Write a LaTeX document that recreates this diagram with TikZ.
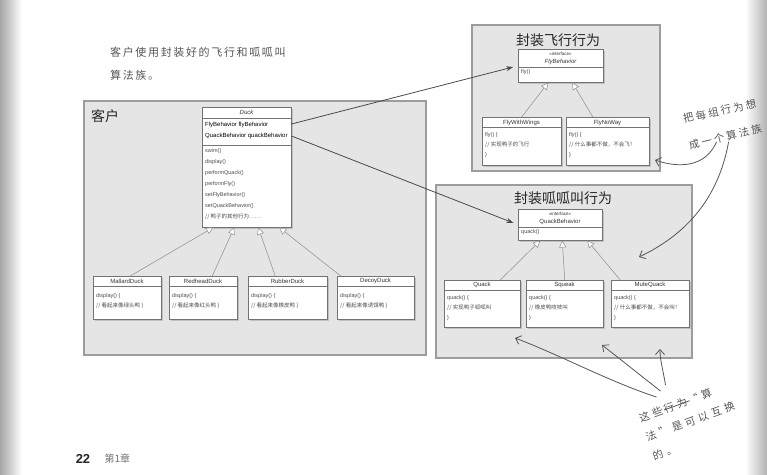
\documentclass[tikz,border=0pt]{standalone}
\usepackage{fontspec}
\setmainfont{Liberation Sans}
\newfontfamily\cjk{Noto Sans CJK SC}
\usetikzlibrary{arrows.meta,shadows}
\definecolor{DuckGroup}{HTML}{E5E5E5}
\definecolor{DuckFrame}{HTML}{9C9C9C}
\definecolor{DuckInk}{HTML}{4A4A4A}
\definecolor{DuckPencil}{HTML}{555555}

\tikzset{
  groupbox/.style={draw=DuckFrame, fill=DuckGroup, line width=1.2pt},
  umlbox/.style={draw=black!55, fill=white, line width=0.5pt, inner sep=0pt, anchor=north west,
    drop shadow={opacity=0.35, shadow xshift=1.5pt, shadow yshift=-1.5pt}},
  umlsep/.style={draw=black!55, line width=0.4pt},
  umlname/.style={font=\fontsize{6}{7}\selectfont, inner sep=0pt, text=black!80},
  umlbody/.style={font=\fontsize{5.5}{10}\selectfont, inner sep=0pt, anchor=north west, align=left, text=black!70},
  isa/.style={draw=black!45, line width=0.5pt, -{Triangle[open, length=7pt, width=7pt, fill=white]}},
  uses/.style={draw=DuckInk, line width=0.8pt, shorten >=5pt, -{Stealth[length=7pt, width=5pt]}},
  pencil/.style={draw=DuckPencil, line width=0.8pt, -{Straight Barb[length=5pt, width=9pt]}},
  hand/.style={font=\cjk\fontsize{10.5}{20}\selectfont\addfontfeature{LetterSpace=32}, text=DuckPencil, inner sep=0pt},
  grouptitle/.style={font=\cjk\fontsize{14}{16}\selectfont, text=black!85, inner sep=0pt},
}

\begin{document}
\begin{tikzpicture}[x=1pt, y=-1pt]
    \useasboundingbox (0,0) rectangle (767,474);
    \clip (0,0) rectangle (767,474);

    % page edges
    \shade[left color=black!35, right color=white] (0,0) rectangle (22,474);
    \shade[left color=white, right color=black!30] (745,0) rectangle (767,474);

    % ========== CLIENT ==========
    \node[hand, font=\cjk\fontsize{11}{23}\selectfont\addfontfeature{LetterSpace=15}, anchor=west, align=left] (note) at (110,63.5)
        {客户使用封装好的飞行和呱呱叫\\算法族。};

    \draw[groupbox] (84,101) rectangle (426,355);
    \node[grouptitle, anchor=west] (clientlabel) at (91,116) {客户};

    % Duck
    \node[umlbox, minimum width=89, minimum height=120] (duck) at (202,107) {};
    \node[umlname, font=\fontsize{6}{7}\selectfont\itshape] (duckname) at (246.5,112.5) {Duck};
    \draw[umlsep] (202,118) -- (291,118);
    \node[umlbody, font=\fontsize{6}{11}\selectfont, text=black] (duckfields) at (205,122) {FlyBehavior flyBehavior\\QuackBehavior quackBehavior};
    \draw[umlsep] (202,145) -- (291,145);
    \node[umlbody, font=\fontsize{5.5}{10.9}\selectfont] (duckops) at (205,148.5)
        {swim()\\display()\\performQuack()\\performFly()\\setFlyBehavior()\\setQuackBehavior()\\{\cjk // 鸭子的其他行为……}};

    % Duck subclasses
    \node[umlbox, minimum width=68, minimum height=43] (mallard) at (93,276) {};
    \node[umlname] (mallardname) at (127,281) {MallardDuck};
    \draw[umlsep] (93,286) -- (161,286);
    \node[umlbody] (mallardops) at (96,293) {display() \{\\{\cjk // 看起来像绿头鸭 \}}};

    \node[umlbox, minimum width=68, minimum height=43] (redhead) at (169,276) {};
    \node[umlname] (redheadname) at (203,281) {RedheadDuck};
    \draw[umlsep] (169,286) -- (237,286);
    \node[umlbody] (redheadops) at (172,293) {display() \{\\{\cjk // 看起来像红头鸭 \}}};

    \node[umlbox, minimum width=79, minimum height=43] (rubber) at (248,276) {};
    \node[umlname] (rubbername) at (287.5,281) {RubberDuck};
    \draw[umlsep] (248,286) -- (327,286);
    \node[umlbody] (rubberops) at (251,293) {display() \{\\{\cjk // 看起来像橡皮鸭 \}}};

    \node[umlbox, minimum width=77, minimum height=43] (decoy) at (337,276) {};
    \node[umlname] (decoyname) at (375.5,281) {DecoyDuck};
    \draw[umlsep] (337,286) -- (414,286);
    \node[umlbody] (decoyops) at (340,293) {display() \{\\{\cjk // 看起来像诱饵鸭 \}}};

    \draw[isa] ([xshift=3pt]mallard.north) -- ([xshift=-33.5pt]duck.south);
    \draw[isa] ([xshift=9pt]redhead.north) -- ([xshift=-12.5pt]duck.south);
    \draw[isa] ([xshift=-12.5pt]rubber.north) -- ([xshift=11.5pt]duck.south);
    \draw[isa] ([xshift=-35pt]decoy.north) -- ([xshift=32.5pt]duck.south);

    % ========== FLY BEHAVIOR ==========
    \draw[groupbox] (472,25) rectangle (660,171);
    \node[grouptitle] (flytitle) at (558,40) {封装飞行行为};

    \node[umlbox, minimum width=85, minimum height=33] (flybeh) at (518,49) {};
    \node[umlname, font=\fontsize{4.5}{5}\selectfont] (flystereo) at (560.5,53.5) {«interface»};
    \node[umlname, font=\fontsize{6}{7}\selectfont\itshape] (flyname) at (560.5,62) {FlyBehavior};
    \draw[umlsep] (518,67) -- (603,67);
    \node[umlbody] (flyops) at (521,69.5) {fly()};

    \node[umlbox, minimum width=79, minimum height=48] (flywings) at (482,117) {};
    \node[umlname] (flywingsname) at (521.5,122.5) {FlyWithWings};
    \draw[umlsep] (482,127.5) -- (561,127.5);
    \node[umlbody] (flywingsops) at (485,132) {fly() \{\\{\cjk // 实现鸭子的飞行}\\\}};

    \node[umlbox, minimum width=83, minimum height=48] (flynoway) at (566,117) {};
    \node[umlname] (flynowayname) at (607.5,122.5) {FlyNoWay};
    \draw[umlsep] (566,127.5) -- (649,127.5);
    \node[umlbody] (flynowayops) at (569,132) {fly() \{\\{\cjk // 什么事都不做，不会飞！}\\\}};

    \draw[isa] (flywings.north) -- ([xshift=-12.5pt]flybeh.south);
    \draw[isa] ([xshift=-15pt]flynoway.north) -- ([xshift=11.5pt]flybeh.south);

    % ========== QUACK BEHAVIOR ==========
    \draw[groupbox] (436,185) rectangle (692,358);
    \node[grouptitle] (quacktitle) at (563,198) {封装呱呱叫行为};

    \node[umlbox, minimum width=84, minimum height=31] (qbeh) at (518,209) {};
    \node[umlname, font=\fontsize{4.5}{5}\selectfont] (qstereo) at (560,213.5) {«interface»};
    \node[umlname] (qname) at (560,221.5) {QuackBehavior};
    \draw[umlsep] (518,227) -- (602,227);
    \node[umlbody] (qops) at (521,229) {quack()};

    \node[umlbox, minimum width=76, minimum height=47] (quack) at (444,280) {};
    \node[umlname] (quackname) at (482,285) {Quack};
    \draw[umlsep] (444,290.5) -- (520,290.5);
    \node[umlbody] (quackops) at (447,295.5) {quack() \{\\{\cjk // 实现鸭子呱呱叫}\\\}};

    \node[umlbox, minimum width=77, minimum height=47] (squeak) at (526,280) {};
    \node[umlname] (squeakname) at (564.5,285) {Squeak};
    \draw[umlsep] (526,290.5) -- (603,290.5);
    \node[umlbody] (squeakops) at (529,295.5) {quack() \{\\{\cjk // 橡皮鸭吱吱叫}\\\}};

    \node[umlbox, minimum width=78, minimum height=47] (mute) at (611,280) {};
    \node[umlname] (mutename) at (650,285) {MuteQuack};
    \draw[umlsep] (611,290.5) -- (689,290.5);
    \node[umlbody] (muteops) at (614,295.5) {quack() \{\\{\cjk // 什么事都不做，不会叫！}\\\}};

    \draw[isa] ([xshift=18pt]quack.north) -- ([xshift=-20pt]qbeh.south);
    \draw[isa] (squeak.north) -- ([xshift=2pt]qbeh.south);
    \draw[isa] ([xshift=-30pt]mute.north) -- ([xshift=27pt]qbeh.south);

    % Duck has-a behaviors
    \draw[uses] ([yshift=-17pt]duck.north east) -- (flybeh.west);
    \draw[uses] ([yshift=-29pt]duck.north east) -- (qbeh.west);

    % ========== HANDWRITTEN NOTES ==========
    \node[hand, font=\cjk\fontsize{10.5}{20}\selectfont\addfontfeature{LetterSpace=22}, rotate=12, anchor=west] (hint1) at (683,119) {把每组行为想};
    \node[hand, font=\cjk\fontsize{10.5}{20}\selectfont\addfontfeature{LetterSpace=22}, rotate=14, anchor=west] (hint2) at (689,146) {成一个算法族};
    \coordinate (flytip) at (655,160);
    \coordinate (quacktip) at (639,257);
    \draw[pencil] ([xshift=-10pt]hint2.south) .. controls (705,168) and (678,168) .. (flytip);
    \draw[pencil] ([xshift=2pt]hint2.south) .. controls (718,200) and (685,235) .. (quacktip);

    \node[hand, rotate=20, anchor=north west, align=left] (swap) at (637.5,414)
        {这些\,\rlap{\rule[0.32em]{2.6em}{0.8pt}}行为\,“算\\法”是可以互换\\的。};

    \coordinate (q1tip) at (515,338);
    \coordinate (q2tip) at (602,345);
    \coordinate (q3tip) at (660,349);
    \draw[pencil] ([xshift=19pt, yshift=17pt]swap.north west) .. controls (610,382) and (560,355) .. (q1tip);
    \draw[pencil] ([xshift=23pt, yshift=23pt]swap.north west) .. controls (640,375) and (615,355) .. (q2tip);
    \draw[pencil] ([xshift=28pt, yshift=29pt]swap.north west) .. controls (663,370) and (660,360) .. (q3tip);

    % Page number
    \node[font=\bfseries\fontsize{13}{15}\selectfont, text=black!85] (pagenum) at (83,459) {22};
    \node[font=\cjk\fontsize{10}{12}\selectfont, text=black!55, anchor=west] (chapter) at (101,459) {第1章};

\end{tikzpicture}
\end{document}
